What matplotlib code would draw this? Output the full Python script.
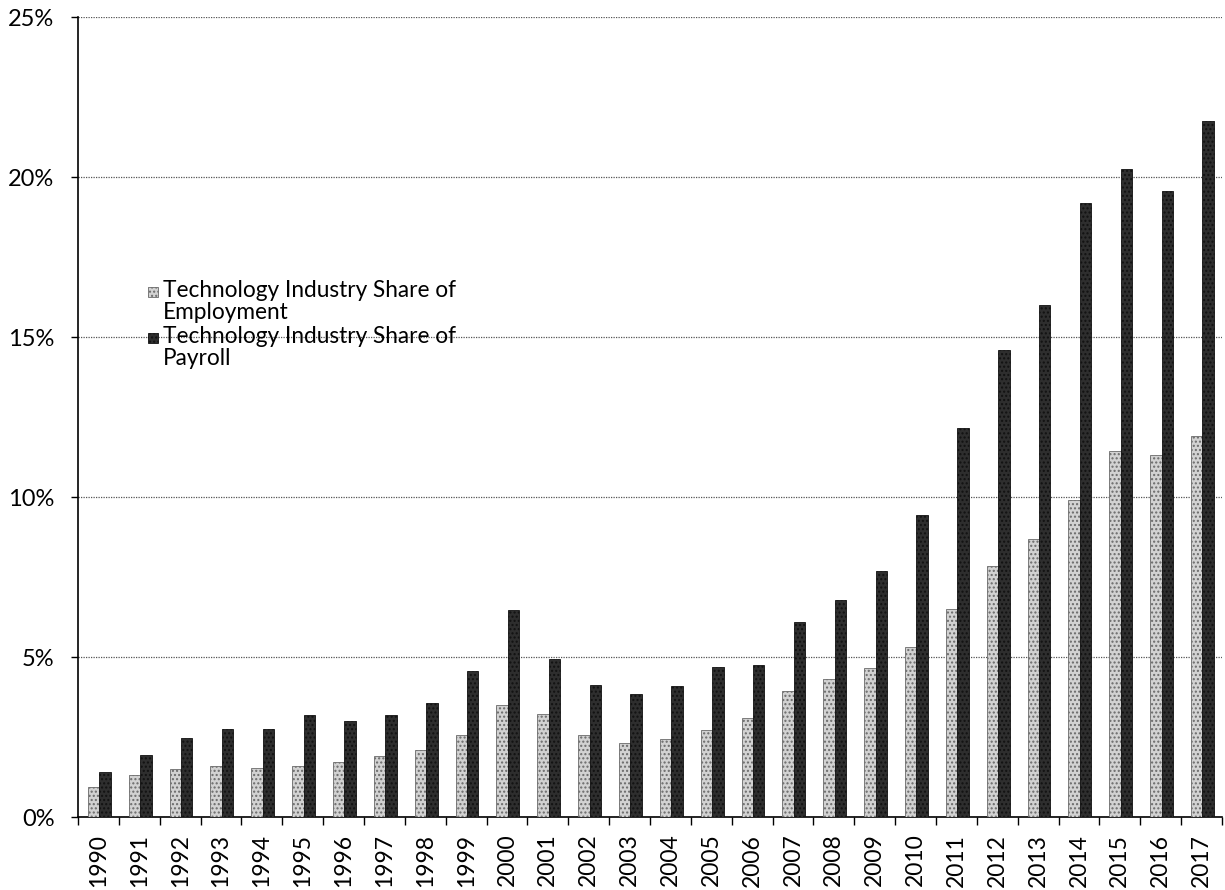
import numpy as np
import matplotlib.pyplot as plt
from matplotlib.patches import Rectangle
from matplotlib.ticker import FuncFormatter

plt.rcParams['font.family'] = ['Lato', 'DejaVu Sans']

years = [str(y) for y in range(1990, 2018)]

# share of employment (light bars), percent
employment = [0.95, 1.3, 1.5, 1.6, 1.52, 1.6, 1.72, 1.9, 2.1, 2.57,
              3.5, 3.22, 2.57, 2.3, 2.44, 2.73, 3.1, 3.94, 4.32, 4.65,
              5.3, 6.5, 7.85, 8.7, 9.9, 11.45, 11.3, 11.9]

# share of payroll (dark bars), percent
payroll = [1.4, 1.94, 2.47, 2.75, 2.75, 3.2, 3.0, 3.18, 3.57, 4.55,
           6.46, 4.93, 4.12, 3.84, 4.1, 4.69, 4.76, 6.08, 6.77, 7.7,
           9.45, 12.15, 14.6, 16.0, 19.2, 20.25, 19.55, 21.75]

labels = ['Technology Industry Share of\nEmployment',
          'Technology Industry Share of\nPayroll']

fig = plt.figure(figsize=(12.25, 8.9), dpi=100)
ax = fig.add_axes([78/1225, 1 - 817/890, 1144/1225, 800/890])

x = np.arange(len(years))
w = 0.28
light = dict(color='#d2d2d2', edgecolor='#6a6a6a', hatch='....', linewidth=0.6)
dark = dict(color='#2e2e2e', edgecolor='#111111', hatch='....', linewidth=0.6)
ax.bar(x - w/2 + 0.02, employment, width=w, label=labels[0], zorder=3, **light)
ax.bar(x + w/2 + 0.02, payroll, width=w, label=labels[1], zorder=3, **dark)

ax.set_xlim(-0.5, len(years) - 0.5)
ax.set_ylim(0, 25)
ax.set_yticks([0, 5, 10, 15, 20, 25])
ax.yaxis.set_major_formatter(FuncFormatter(lambda v, p: '%d%%' % v))
ax.yaxis.grid(True, linestyle=(0, (1, 1)), color='#555555', linewidth=0.9, zorder=0)

ax.set_xticks(x)
ax.set_xticklabels(years, rotation=90)
ax.set_xticks(np.arange(-0.5, len(years), 1), minor=True)
ax.tick_params(axis='x', which='major', length=0, labelsize=16.5, pad=12)
ax.tick_params(axis='x', which='minor', length=6, width=1)
ax.tick_params(axis='y', length=5, width=1, labelsize=17, pad=12)

for s in ['top', 'right']:
    ax.spines[s].set_visible(False)
ax.spines['left'].set_linewidth(1.2)
ax.spines['bottom'].set_linewidth(1.2)

# legend drawn Excel-style: square beside the first line of each wrapped label
tx, ty = 163, 292
for i, (lab, style) in enumerate(zip(labels, [light, dark])):
    yy = ty + i * 46
    fig.text(tx / 1225, 1 - (yy - 12) / 890, lab, fontsize=16.3, va='top',
             linespacing=1.08)
    fig.patches.append(Rectangle((148 / 1225, 1 - (yy + 5) / 890), 10 / 1225, 10 / 890,
                                 transform=fig.transFigure, figure=fig,
                                 facecolor=style['color'], edgecolor=style['edgecolor'],
                                 hatch=style['hatch'], linewidth=0.6))

fig.savefig('out.png', dpi=100)
